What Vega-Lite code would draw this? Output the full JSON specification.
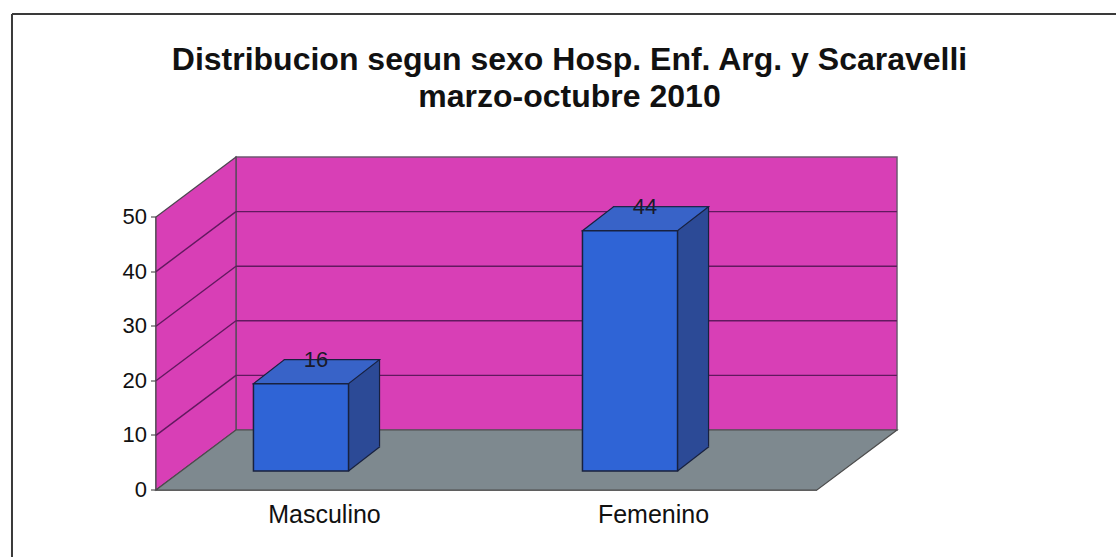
{
  "$schema": "https://vega.github.io/schema/vega-lite/v6.json",
  "width": 661,
  "height": 273,
  "autosize": {"type": "none"},
  "padding": {"left": 236, "top": 157, "right": 219, "bottom": 127},
  "background": "white",
  "title": {
    "text": ["Distribucion segun sexo Hosp. Enf. Arg. y Scaravelli", "marzo-octubre 2010"],
    "frame": "group",
    "anchor": "middle",
    "offset": -104,
    "dx": 3,
    "fontSize": 32,
    "fontWeight": "bold",
    "font": "Liberation Sans",
    "lineHeight": 37,
    "color": "#111111"
  },
  "data": {"values": [{"sexo": "Masculino", "n": 16}, {"sexo": "Femenino", "n": 44}]},
  "config": {
    "font": "Liberation Sans",
    "view": {"fill": "#d83fb6", "stroke": "#6d5872", "strokeWidth": 1.5},
    "axisY": {"translate": 60, "offset": 140, "grid": false, "domainColor": "#555555", "domainWidth": 1.5, "tickColor": "#555555", "tickSize": 5, "tickWidth": 1.2, "labelFontSize": 22, "labelColor": "#111111", "labelPadding": 4, "tickCount": 5, "zindex": 1},
    "axisX": {"translate": -80, "offset": 140, "ticks": false, "grid": false, "domainColor": "#444444", "domainWidth": 1.5, "labelFontSize": 25, "labelColor": "#111111", "labelPadding": 13, "labelAngle": 0, "labelOffset": 3, "zindex": 1}
  },
  "layer": [
    {
      "data": {"values": [{}]},
      "mark": {"type": "point", "shape": "M-0.991,0L0.991,0", "size": 1254400, "filled": false, "stroke": "#3a3a3a", "strokeWidth": 2, "opacity": 1, "xOffset": 165, "yOffset": -143},
      "encoding": {
        "x": {"datum": "Masculino", "type": "nominal", "title": null},
        "y": {"datum": 50, "type": "quantitative", "title": null}
      }
    },
    {
      "data": {"values": [{}]},
      "mark": {"type": "rule", "color": "#3a3a3a", "strokeWidth": 2, "xOffset": -390, "yOffset": -143, "y2Offset": 140},
      "encoding": {
        "x": {"datum": "Masculino", "type": "nominal", "title": null},
        "y": {"datum": 50, "type": "quantitative", "title": null},
        "y2": {"datum": 0}
      }
    },
    {
      "data": {"values": [{}]},
      "mark": {"type": "point", "shape": "M-0.2353,-0.6265L0.2353,-0.9794L0.2353,0.6265L-0.2353,0.9794Z", "size": 115600, "filled": true, "fill": "#d83fb6", "stroke": "#4d4650", "strokeWidth": 1.2, "opacity": 1, "xOffset": -206, "yOffset": 30},
      "encoding": {
        "x": {"datum": "Masculino", "type": "nominal", "title": null},
        "y": {"datum": 25, "type": "quantitative", "title": null}
      }
    },
    {
      "data": {"values": [{}]},
      "mark": {"type": "point", "shape": "M-0.783,-0.0809L0.9987,-0.0809L0.783,0.0809L-0.9987,0.0809Z", "size": 550564, "filled": true, "fill": "#7e898f", "stroke": "#4d4d4d", "strokeWidth": 1.2, "opacity": 1, "xOffset": 124.5, "yOffset": 30},
      "encoding": {
        "x": {"datum": "Masculino", "type": "nominal", "title": null},
        "y": {"datum": 0, "type": "quantitative", "title": null}
      }
    },
    {
      "data": {"values": [{"g": 10}, {"g": 20}, {"g": 30}, {"g": 40}]},
      "mark": {"type": "rule", "color": "#62195f", "strokeWidth": 1.4},
      "encoding": {"y": {"field": "g", "type": "quantitative", "title": null}}
    },
    {
      "data": {"values": [{"g": 10}, {"g": 20}, {"g": 30}, {"g": 40}]},
      "mark": {"type": "point", "shape": "M-0.8,0.6L0.8,-0.6", "size": 10000, "filled": false, "stroke": "#62195f", "strokeWidth": 1.4, "opacity": 1, "xOffset": -206, "yOffset": 30},
      "encoding": {
        "x": {"datum": "Masculino", "type": "nominal", "title": null},
        "y": {"field": "g", "type": "quantitative", "title": null}
      }
    },
    {
      "mark": {"type": "bar", "fill": "#2c4a96", "stroke": "#18213f", "strokeWidth": 1.2, "xOffset": -70, "yOffset": 17, "y2Offset": 17},
      "encoding": {
        "x": {"field": "sexo", "type": "nominal", "scale": {"domain": ["Masculino", "Femenino"], "paddingInner": 0.711, "paddingOuter": 0.36}, "title": null},
        "y": {"field": "n", "type": "quantitative", "scale": {"domain": [0, 50], "nice": false}, "title": null}
      }
    },
    {
      "mark": {"type": "point", "shape": "M-0.9,-0.65L0.775,-0.65L0.775,-0.6L-0.775,0.6L-0.9,0.6Z", "size": 1600, "filled": true, "fill": "#2c4a96", "strokeWidth": 0, "opacity": 1, "xOffset": -38, "yOffset": 29},
      "encoding": {
        "x": {"field": "sexo", "type": "nominal", "title": null},
        "y": {"datum": 0, "type": "quantitative", "title": null}
      }
    },
    {
      "mark": {"type": "point", "shape": "M0.775,-0.6L-0.775,0.6", "size": 1600, "filled": false, "stroke": "#18213f", "strokeWidth": 1.2, "opacity": 1, "xOffset": -38, "yOffset": 29},
      "encoding": {
        "x": {"field": "sexo", "type": "nominal", "title": null},
        "y": {"datum": 0, "type": "quantitative", "title": null}
      }
    },
    {
      "mark": {"type": "point", "shape": "M-0.9,0.1714L0.4571,0.1714L0.9,-0.1714L-0.4571,-0.1714Z", "size": 19600, "filled": true, "fill": "#3863c8", "stroke": "#18213f", "strokeWidth": 1.2, "opacity": 1, "xOffset": -85.5, "yOffset": 29},
      "encoding": {
        "x": {"field": "sexo", "type": "nominal", "title": null},
        "y": {"field": "n", "type": "quantitative", "title": null}
      }
    },
    {
      "mark": {"type": "bar", "fill": "#2f64d6", "stroke": "#18213f", "strokeWidth": 1.5, "xOffset": -101, "yOffset": 41, "y2Offset": 41},
      "encoding": {
        "x": {"field": "sexo", "type": "nominal", "title": null},
        "y": {"field": "n", "type": "quantitative", "title": null}
      }
    },
    {
      "mark": {"type": "text", "dx": -86, "dy": 17, "fontSize": 22, "color": "#1a1a2a", "baseline": "middle", "align": "center"},
      "encoding": {
        "x": {"field": "sexo", "type": "nominal", "title": null},
        "y": {"field": "n", "type": "quantitative", "title": null},
        "text": {"field": "n", "type": "quantitative"}
      }
    }
  ]
}
